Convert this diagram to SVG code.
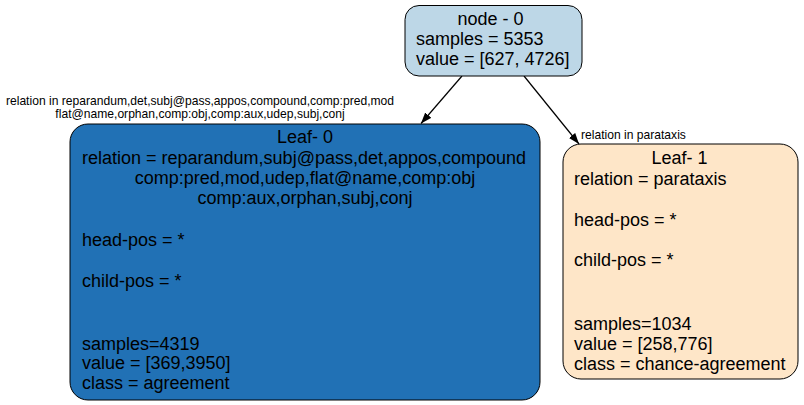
<svg xmlns="http://www.w3.org/2000/svg" width="804" height="405" viewBox="0 0 804 405">
<defs>
<marker id="arr" viewBox="0 0 11 9" refX="11" refY="4.5" markerWidth="11" markerHeight="9" markerUnits="userSpaceOnUse" orient="auto">
<path d="M0,0.5 L11,4.5 L0,8.5 z" fill="#000"/>
</marker>
<style>
.box{stroke:#000;stroke-width:1}
.t{font-family:"Liberation Sans",Arial,sans-serif;font-size:18px;fill:#000}
.c{text-anchor:middle}
.e{font-family:"Liberation Sans",Arial,sans-serif;font-size:12.1px;fill:#000}
.ln{stroke:#000;stroke-width:1.2;fill:none}
</style>
</defs>
<rect width="804" height="405" fill="#fff"/>
<g id="connectors">
<line class="ln" x1="462" y1="76" x2="421" y2="123.5" marker-end="url(#arr)"/>
<line class="ln" x1="524" y1="76" x2="579" y2="144" marker-end="url(#arr)"/>
<text class="e c" x="200" y="105">relation in reparandum,det,subj@pass,appos,compound,comp:pred,mod</text>
<text class="e c" x="200" y="118">flat@name,orphan,comp:obj,comp:aux,udep,subj,conj</text>
<text class="e" x="581" y="139">relation in parataxis</text>
</g>
<g id="node0">
<rect class="box" x="405" y="5.5" width="177" height="70.5" rx="14" fill="#bdd7e7"/>
<text class="t c" x="490.5" y="25">node - 0</text>
<text class="t" x="416" y="45">samples = 5353</text>
<text class="t" x="416" y="65">value = [627, 4726]</text>
</g>
<g id="leaf0">
<rect class="box" x="70" y="124" width="470" height="276" rx="18" fill="#2171b5"/>
<text class="t c" x="305" y="143">Leaf- 0</text>
<text class="t" x="82" y="164">relation = reparandum,subj@pass,det,appos,compound</text>
<text class="t c" x="305" y="184">comp:pred,mod,udep,flat@name,comp:obj</text>
<text class="t c" x="305" y="204">comp:aux,orphan,subj,conj</text>
<text class="t" x="82" y="246">head-pos = *</text>
<text class="t" x="82" y="287">child-pos = *</text>
<text class="t" x="82" y="350">samples=4319</text>
<text class="t" x="82" y="369">value = [369,3950]</text>
<text class="t" x="82" y="389">class = agreement</text>
</g>
<g id="leaf1">
<rect class="box" x="563" y="144" width="235" height="235" rx="18" fill="#fee6c8"/>
<text class="t c" x="679.5" y="164">Leaf- 1</text>
<text class="t" x="574" y="185">relation = parataxis</text>
<text class="t" x="574" y="226">head-pos = *</text>
<text class="t" x="574" y="266">child-pos = *</text>
<text class="t" x="574" y="330">samples=1034</text>
<text class="t" x="574" y="350">value = [258,776]</text>
<text class="t" x="574" y="370">class = chance-agreement</text>
</g>
</svg>
